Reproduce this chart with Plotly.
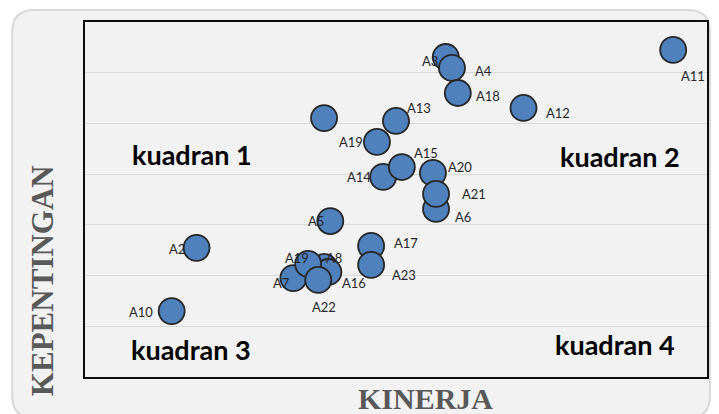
import plotly.graph_objects as go

# ---- data (no tick labels shown, scale is nominal) ----
labels = ["A10", "A2", "A7", "A8", "A16", "A19", "A22", "A5", "", "A17", "A23",
          "A14", "A15", "A19", "A13", "A20", "A6", "A21", "A3", "A4", "A18",
          "A12", "A11"]
kinerja = [3.223, 3.287, 3.536, 3.615, 3.626, 3.574, 3.600, 3.631, 3.615, 3.736, 3.736,
           3.767, 3.815, 3.751, 3.800, 3.895, 3.903, 3.903, 3.928, 3.944, 3.959,
           4.128, 4.513]
kepentingan = [3.860, 4.109, 3.990, 4.034, 4.014, 4.046, 3.983, 4.215, 4.621, 4.117, 4.042,
               4.389, 4.428, 4.527, 4.610, 4.405, 4.263, 4.322, 4.862, 4.819, 4.720,
               4.661, 4.890]
quadrant_names = ["kuadran 1", "kuadran 2", "kuadran 3", "kuadran 4"]
x_title = "KINERJA"
y_title = "KEPENTINGAN"

# ---- styling / layout ----
W, H = 719, 414
L, R, T, B = 85, 709, 22, 377          # plot area in pixels
XR = [3.0, 4.6]
YR = [3.6, 5.0]

# label offsets in pixels (dx right, dy down)
label_dx = [-31, -20, -12, 10, 26, -11, 6, -14, 0, 35, 33,
            -24, 24, -26, 23, 27, 27, 38, -16, 32, 30,
            34, 20]
label_dy = [1, 1, 5, -9, 11, -6, 27, 0, 0, -3, 10,
            0, -14, 0, -13, -6, 8, 0, 4, 3, 3,
            5, 26]


def px(xp):
    return (xp - L) / (R - L)


def py(yp):
    return (B - yp) / (B - T)


fig = go.Figure()
fig.add_trace(go.Scatter(
    x=kinerja, y=kepentingan, mode="markers",
    marker=dict(size=26, color="#4f81bd", line=dict(color="#262626", width=1.8)),
    hoverinfo="skip", showlegend=False, cliponaxis=False,
))

annotations = []
for lab, xv, yv, dx, dy in zip(labels, kinerja, kepentingan, label_dx, label_dy):
    if not lab:
        continue
    annotations.append(dict(
        x=xv, y=yv, xref="x", yref="y", text=lab, showarrow=False,
        xshift=dx, yshift=-dy, font=dict(family="Lato", size=13, color="#262626"),
        xanchor="center", yanchor="middle",
    ))

quad_pos = [(192, 155), (622, 156), (191, 349), (617, 344)]
for name, (qx, qy) in zip(quadrant_names, quad_pos):
    annotations.append(dict(
        x=px(qx), y=py(qy), xref="paper", yref="paper", text="<b>%s</b>" % name,
        showarrow=False, xanchor="center", yanchor="middle",
        font=dict(family="Lato", size=27, color="#000000"),
    ))

annotations.append(dict(
    x=px(427), y=py(398), xref="paper", yref="paper", text="<b>%s</b>" % x_title,
    showarrow=False, xanchor="center", yanchor="middle",
    font=dict(family="Liberation Serif", size=30, color="#595959"),
))
annotations.append(dict(
    x=px(42), y=py(281), xref="paper", yref="paper", text="<b>%s</b>" % y_title,
    showarrow=False, xanchor="center", yanchor="middle", textangle=-90,
    font=dict(family="Liberation Serif", size=31, color="#595959"),
))

# rounded outer panel
pl, pt, pr, pb, rad = 12, 10, 712, 418, 22
path = (
    f"M {px(pl)} {py(pt + rad)} "
    f"Q {px(pl)} {py(pt)} {px(pl + rad)} {py(pt)} "
    f"L {px(pr - rad)} {py(pt)} "
    f"Q {px(pr)} {py(pt)} {px(pr)} {py(pt + rad)} "
    f"L {px(pr)} {py(pb - rad)} "
    f"Q {px(pr)} {py(pb)} {px(pr - rad)} {py(pb)} "
    f"L {px(pl + rad)} {py(pb)} "
    f"Q {px(pl)} {py(pb)} {px(pl)} {py(pb - rad)} Z"
)
shapes = [dict(type="path", path=path, xref="paper", yref="paper",
               fillcolor="#f2f2f2", line=dict(color="#d9d9d9", width=2), layer="below")]

fig.update_layout(
    width=W, height=H,
    margin=dict(l=L, r=W - R, t=T, b=H - B, pad=0),
    paper_bgcolor="#ffffff", plot_bgcolor="#f2f2f2",
    annotations=annotations, shapes=shapes,
    xaxis=dict(range=XR, showgrid=False, zeroline=False, showticklabels=False,
               ticks="", showline=True, linecolor="#0d0d0d", linewidth=2, mirror=True),
    yaxis=dict(range=YR, dtick=0.2, tick0=3.6, showgrid=True, gridcolor="#d9d9d9",
               gridwidth=1.3, zeroline=False, showticklabels=False, ticks="",
               showline=True, linecolor="#0d0d0d", linewidth=2, mirror=True),
)

fig.write_html("out.html", config={"displayModeBar": False},
               post_script="document.body.style.margin='0';document.body.style.overflow='hidden';")
